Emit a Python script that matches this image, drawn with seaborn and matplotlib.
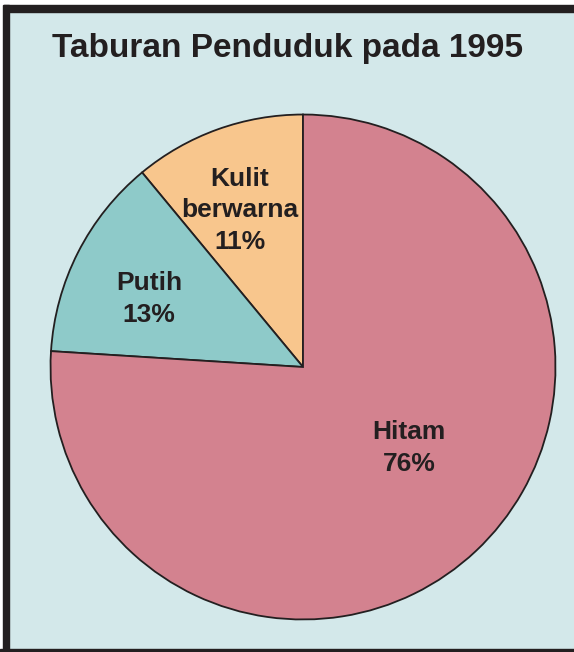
import matplotlib
matplotlib.use('Agg')
import matplotlib.pyplot as plt
import seaborn as sns
from matplotlib.patches import Rectangle

sns.set_theme(style='white')
plt.rcParams['font.family'] = ['Liberation Sans', 'DejaVu Sans']

# data
groups = ['Kulit\nberwarna', 'Putih', 'Hitam']
shares = [11, 13, 76]
colors = ['#F8C68D', '#8ECAC9', '#D3828F']

bg = '#D3E8EA'
ink = '#231F20'

fig = plt.figure(figsize=(5.74, 6.52), dpi=100, facecolor=bg)

# frame (white strip + dark band at top, dark band left, thin line at bottom)
fig.patches.append(Rectangle((0, 1 - 5 / 652), 1, 5 / 652, transform=fig.transFigure, color='white', zorder=0))
fig.patches.append(Rectangle((0, 1 - 12 / 652), 1, 7 / 652, transform=fig.transFigure, color=ink, zorder=0))
fig.patches.append(Rectangle((0, 0), 3 / 574, 1, transform=fig.transFigure, color='white', zorder=0))
fig.patches.append(Rectangle((3 / 574, 0), 6 / 574, 1 - 5 / 652, transform=fig.transFigure, color=ink, zorder=0))
fig.patches.append(Rectangle((0, 0), 1, 3 / 652, transform=fig.transFigure, color=ink, zorder=0))

ax = fig.add_axes([(303 - 255) / 574, (285 - 255) / 652, 510 / 574, 510 / 652])
ax.set_facecolor('none')

wedges, _ = ax.pie(shares, colors=colors, startangle=90, counterclock=True,
                   radius=1, wedgeprops=dict(edgecolor=ink, linewidth=1.3))
ax.set_xlim(-1.01, 1.01)
ax.set_ylim(-1.01, 1.01)
ax.set_aspect('equal')
ax.axis('off')

# label placement: (x, y) inside each wedge, in pie units
label_pos = [(-0.25, 0.62), (-0.61, 0.27), (0.42, -0.32)]
for g, s, (x, y) in zip(groups, shares, label_pos):
    ax.text(x, y, f'{g}\n{s}%', ha='center', va='center', fontsize=19,
            fontweight='bold', color=ink, linespacing=1.4)

fig.text(0.5, 1 - 49 / 652, 'Taburan Penduduk pada 1995', ha='center', va='center',
         fontsize=24, fontweight='bold', color=ink)

fig.savefig('out.png', dpi=100, facecolor=bg)
